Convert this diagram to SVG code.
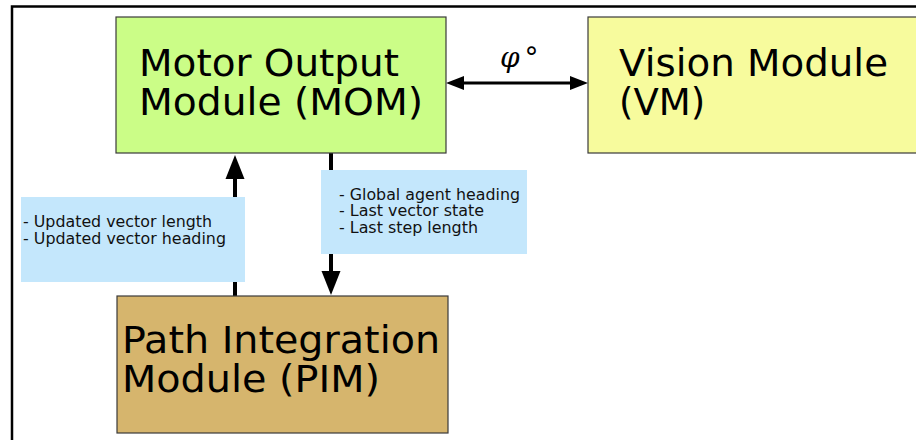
<svg xmlns="http://www.w3.org/2000/svg" width="916" height="440" viewBox="0 0 916 440">
<style>
.box{stroke:#3a3a3a;stroke-width:1.2}
.big{font-family:"DejaVu Sans","Verdana",sans-serif;fill:#000;font-size:37px}
.lab{fill:#c4e7fc}
.small{font-family:"DejaVu Sans","Verdana",sans-serif;font-size:15.3px;fill:#111}
.conn{stroke:#000;fill:none}
</style>
<defs>
<marker id="headL" markerUnits="userSpaceOnUse" markerWidth="24" markerHeight="19" refX="0" refY="9.5" orient="auto" overflow="visible">
<path d="M0,0 L24,9.5 L0,19 z" fill="#000"/>
</marker>
<marker id="headS" markerUnits="userSpaceOnUse" markerWidth="18" markerHeight="14" refX="0" refY="7" orient="auto-start-reverse" overflow="visible">
<path d="M0,0 L18,7 L0,14 z" fill="#000"/>
</marker>
</defs>
<rect width="916" height="440" fill="#fff"/>
<path d="M12,440 V6.5 H916" fill="none" stroke="#000" stroke-width="2.5"/>

<g id="connectors">
<line class="conn" x1="235" y1="296" x2="235" y2="179" stroke-width="4" marker-end="url(#headL)"/>
<line class="conn" x1="331" y1="153" x2="331" y2="271" stroke-width="4" marker-end="url(#headL)"/>
<line class="conn" x1="464" y1="83" x2="570" y2="83" stroke-width="3" marker-start="url(#headS)" marker-end="url(#headS)"/>
<text x="500" y="67" font-family="DejaVu Serif,serif" font-style="italic" font-size="28">φ<tspan font-family="DejaVu Sans,sans-serif" font-style="normal" dx="5">°</tspan></text>
</g>

<g id="labelLeft" class="small">
<rect class="lab" x="21" y="197" width="224" height="85"/>
<text x="23" y="227" textLength="189" lengthAdjust="spacingAndGlyphs">- Updated vector length</text>
<text x="23" y="243.5" textLength="203" lengthAdjust="spacingAndGlyphs">- Updated vector heading</text>
</g>
<g id="labelRight" class="small">
<rect class="lab" x="321" y="170" width="206" height="84"/>
<text x="339" y="199.5" textLength="181" lengthAdjust="spacingAndGlyphs">- Global agent heading</text>
<text x="339" y="216" textLength="145" lengthAdjust="spacingAndGlyphs">- Last vector state</text>
<text x="339" y="232.5" textLength="139" lengthAdjust="spacingAndGlyphs">- Last step length</text>
</g>

<g id="MOM">
<rect class="box" x="116" y="17" width="330" height="136" fill="#cbfd87"/>
<text class="big" x="139" y="76" textLength="260" lengthAdjust="spacingAndGlyphs">Motor Output</text>
<text class="big" x="139" y="115" textLength="284" lengthAdjust="spacingAndGlyphs">Module (MOM)</text>
</g>

<g id="VM">
<rect class="box" x="588" y="17" width="340" height="136" fill="#f7fb9d"/>
<text class="big" x="619" y="76" textLength="269" lengthAdjust="spacingAndGlyphs">Vision Module</text>
<text class="big" x="619" y="115">(VM)</text>
</g>

<g id="PIM">
<rect class="box" x="117" y="296" width="331" height="137" fill="#d6b56d"/>
<text class="big" x="122" y="353" textLength="318" lengthAdjust="spacingAndGlyphs">Path Integration</text>
<text class="big" x="122" y="392" textLength="258" lengthAdjust="spacingAndGlyphs">Module (PIM)</text>
</g>
</svg>
